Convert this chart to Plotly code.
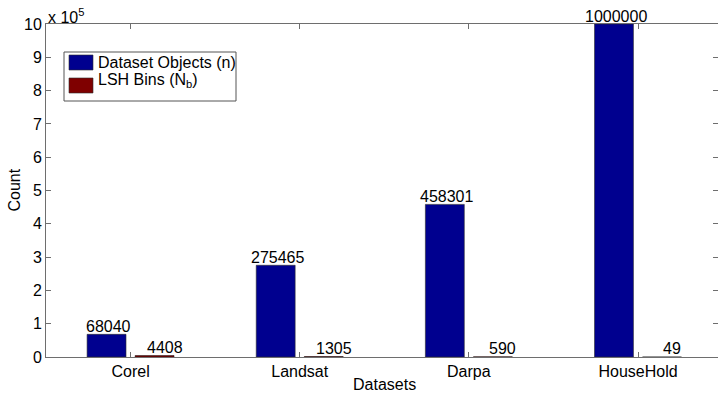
import plotly.graph_objects as go

# Dataset sizes versus number of LSH bins
categories = ["Corel", "Landsat", "Darpa", "HouseHold"]
dataset_objects = [68040, 275465, 458301, 1000000]
lsh_bins = [4408, 1305, 590, 49]
y_tick_units = list(range(0, 11))      # axis ticks, in units of 1e5
SCALE = 1e5

BLUE = "#00008F"
DARK_RED = "#7F0000"
AXIS_GREY = "#6e6e6e"
FONT = dict(family="Liberation Sans, Arial, Helvetica, sans-serif", size=16, color="black")

W, H = 718, 393
M_L, M_R, M_T, M_B = 46, 0, 24, 36
BARGAP, BARGROUPGAP = 0.432, 0.19

x_pos = list(range(len(categories)))
tick_vals = [v * SCALE for v in y_tick_units]

fig = go.Figure()
fig.add_bar(x=x_pos, y=dataset_objects, name="Dataset Objects (n)",
            marker=dict(color=BLUE, line=dict(color="#2b2b2b", width=0.6)),
            showlegend=False)
fig.add_bar(x=x_pos, y=lsh_bins, name="LSH Bins (N<sub>b</sub>)",
            marker=dict(color=DARK_RED, line=dict(color="#111111", width=0.5)),
            showlegend=False)
# invisible trace that carries the right-hand tick marks
fig.add_scatter(x=[x_pos[0]], y=[0], yaxis="y2", mode="markers",
                marker=dict(opacity=0), showlegend=False, hoverinfo="skip")

# value labels over each bar
slot = (1 - BARGAP) / 2
offset = slot / 2
for i, v in enumerate(dataset_objects):
    fig.add_annotation(x=x_pos[i] - offset, y=v, text=str(v), showarrow=False,
                       xanchor="center", yanchor="middle", xshift=2, yshift=8,
                       font=FONT)
for i, v in enumerate(lsh_bins):
    fig.add_annotation(x=x_pos[i] + offset, y=v, text=str(v), showarrow=False,
                       xanchor="center", yanchor="middle", xshift=10, yshift=8,
                       font=FONT)

# exponent marker for the y axis
fig.add_annotation(xref="paper", yref="paper", x=0, y=1, yshift=-4,
                   text="x 10<sup>5</sup>", showarrow=False,
                   xanchor="left", yanchor="bottom", font=FONT)

# axis titles
fig.add_annotation(xref="paper", yref="paper", x=(384 - M_L) / (W - M_L - M_R), y=0,
                   yshift=-27, text="Datasets", showarrow=False,
                   xanchor="center", yanchor="middle", font=FONT)
fig.add_annotation(xref="paper", yref="paper", x=0, xshift=-32, y=0.5,
                   text="Count", textangle=-90, showarrow=False,
                   xanchor="center", yanchor="middle", font=FONT)

# legend box drawn in pixel terms of the plotting area
pw, ph = W - M_L - M_R, H - M_T - M_B
def px(xp):
    return (xp - M_L) / pw
def py(yp):
    return (H - M_B - yp) / ph

fig.add_shape(type="rect", xref="paper", yref="paper",
              x0=px(64), x1=px(236), y0=py(101), y1=py(52),
              line=dict(color="#555555", width=1), fillcolor="white", layer="above")
fig.add_shape(type="rect", xref="paper", yref="paper",
              x0=px(69), x1=px(93), y0=py(70), y1=py(55),
              line=dict(color="#2b2b2b", width=0.6), fillcolor=BLUE, layer="above")
fig.add_shape(type="rect", xref="paper", yref="paper",
              x0=px(69), x1=px(93), y0=py(93), y1=py(78),
              line=dict(color="#2b2b2b", width=0.6), fillcolor=DARK_RED, layer="above")
fig.add_annotation(xref="paper", yref="paper", x=px(96), y=py(62.5),
                   text="Dataset Objects (n)", showarrow=False,
                   xanchor="left", yanchor="middle", font=FONT)
fig.add_annotation(xref="paper", yref="paper", x=px(96), y=py(80),
                   text="LSH Bins (N<sub>b</sub>)", showarrow=False,
                   xanchor="left", yanchor="middle", font=FONT)

fig.update_layout(
    width=W, height=H,
    margin=dict(l=M_L, r=M_R, t=M_T, b=M_B),
    paper_bgcolor="white", plot_bgcolor="white",
    font=FONT,
    barmode="group", bargap=BARGAP, bargroupgap=BARGROUPGAP,
    xaxis=dict(range=[-0.5, 3.473], tickvals=x_pos, ticktext=categories,
               showgrid=False, zeroline=False,
               showline=True, linecolor=AXIS_GREY, linewidth=1,
               mirror="ticks", ticks="inside", ticklen=5, tickcolor=AXIS_GREY,
               tickfont=FONT),
    yaxis=dict(range=[0, 10 * SCALE], tickvals=tick_vals,
               ticktext=[str(t) for t in y_tick_units],
               showgrid=False, zeroline=False,
               showline=True, linecolor=AXIS_GREY, linewidth=1,
               ticks="inside", ticklen=5, tickcolor=AXIS_GREY,
               tickfont=FONT),
    yaxis2=dict(range=[0, 10 * SCALE], tickvals=tick_vals, overlaying="y",
                side="right", anchor="x", showline=False, showgrid=False,
                zeroline=False, showticklabels=False,
                ticks="inside", ticklen=5, tickcolor=AXIS_GREY),
)

fig.write_html("out.html")
